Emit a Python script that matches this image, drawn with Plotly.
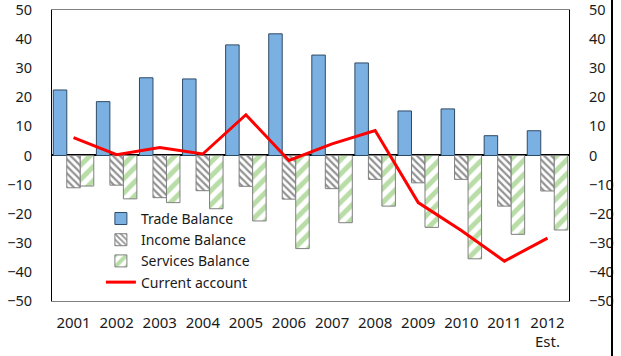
import plotly.graph_objects as go

years = ["2001", "2002", "2003", "2004", "2005", "2006",
         "2007", "2008", "2009", "2010", "2011", "2012<br>Est."]
trade_balance = [22.5, 18.5, 26.7, 26.3, 38.0, 41.8, 34.5, 31.8, 15.3, 16.0, 6.8, 8.5]
income_balance = [-11.1, -10.2, -14.5, -12.1, -10.6, -15.0, -11.4, -8.2, -9.4, -8.2, -17.4, -12.2]
services_balance = [-10.5, -14.9, -16.2, -18.3, -22.5, -32.0, -23.1, -17.4, -24.7, -35.5, -27.1, -25.6]
current_account = [6.1, 0.3, 2.7, 0.5, 14.0, -1.7, 4.0, 8.6, -16.2, -25.8, -36.3, -28.4]

tick_vals = [-50, -40, -30, -20, -10, 0, 10, 20, 30, 40, 50]

font_family = "Noto Sans, Open Sans, sans-serif"

fig = go.Figure()

fig.add_trace(go.Bar(
    x=years, y=trade_balance, name="Trade Balance",
    marker=dict(color="#7BB1E2", line=dict(color="#2E4A66", width=1)),
))
fig.add_trace(go.Bar(
    x=years, y=income_balance, name="Income Balance",
    marker=dict(color="white", line=dict(color="#7F7F7F", width=1),
                pattern=dict(shape="\\", fgcolor="#262626", bgcolor="white",
                             size=5, solidity=0.45)),
))
fig.add_trace(go.Bar(
    x=years, y=services_balance, name="Services Balance",
    marker=dict(color="white", line=dict(color="#7F7F7F", width=1),
                pattern=dict(shape="/", fgcolor="#74BB50", bgcolor="white",
                             size=10, solidity=0.5)),
))
fig.add_trace(go.Scatter(
    x=years, y=current_account, name="Current account", mode="lines",
    line=dict(color="#FF0000", width=3), yaxis="y2",
))

# paper covers the full height; the plot box sits inside via domains
fig.update_layout(
    width=621, height=356,
    margin=dict(l=52, r=7, t=0, b=0, autoexpand=False),
    paper_bgcolor="white", plot_bgcolor="white",
    font=dict(family=font_family, size=14, color="#1A1A1A"),
    barmode="group", bargap=0.06, bargroupgap=0,
    showlegend=True,
    legend=dict(x=0.087, y=0.43, xanchor="left", yanchor="top",
                bgcolor="rgba(0,0,0,0)", font=dict(size=14),
                itemwidth=30, tracegroupgap=0),
    xaxis=dict(domain=[0, 0.92], showline=True, linecolor="#808080",
               linewidth=1, mirror=True, showgrid=False, ticks="",
               ticklabelstandoff=8, automargin=False,
               tickfont=dict(size=15)),
    yaxis=dict(domain=[0.1545, 0.972], range=[-50, 50], tickvals=tick_vals,
               showgrid=False, showline=True, linecolor="black", linewidth=1,
               zeroline=True, zerolinecolor="black", zerolinewidth=1.5,
               ticks="", ticklabelstandoff=16, automargin=False,
               ticklabeloverflow="allow", tickfont=dict(size=14.5)),
    yaxis2=dict(range=[-50, 50], tickvals=tick_vals, overlaying="y",
                anchor="x", side="right", showgrid=False, zeroline=False,
                showline=True, linecolor="black", linewidth=1,
                ticks="", ticklabelstandoff=16, automargin=False,
                ticklabeloverflow="allow", tickfont=dict(size=14.5)),
)

# black frame line on the far right, added to the page itself
edge_js = (
    "document.body.style.margin='0';"
    "var edge=document.createElement('div');"
    "edge.style.cssText='position:absolute;left:611px;top:0;width:2px;"
    "height:356px;background:#000;z-index:10;pointer-events:none';"
    "document.body.appendChild(edge);"
)

fig.write_html("out.html", config={"displayModeBar": False},
               post_script=edge_js)
